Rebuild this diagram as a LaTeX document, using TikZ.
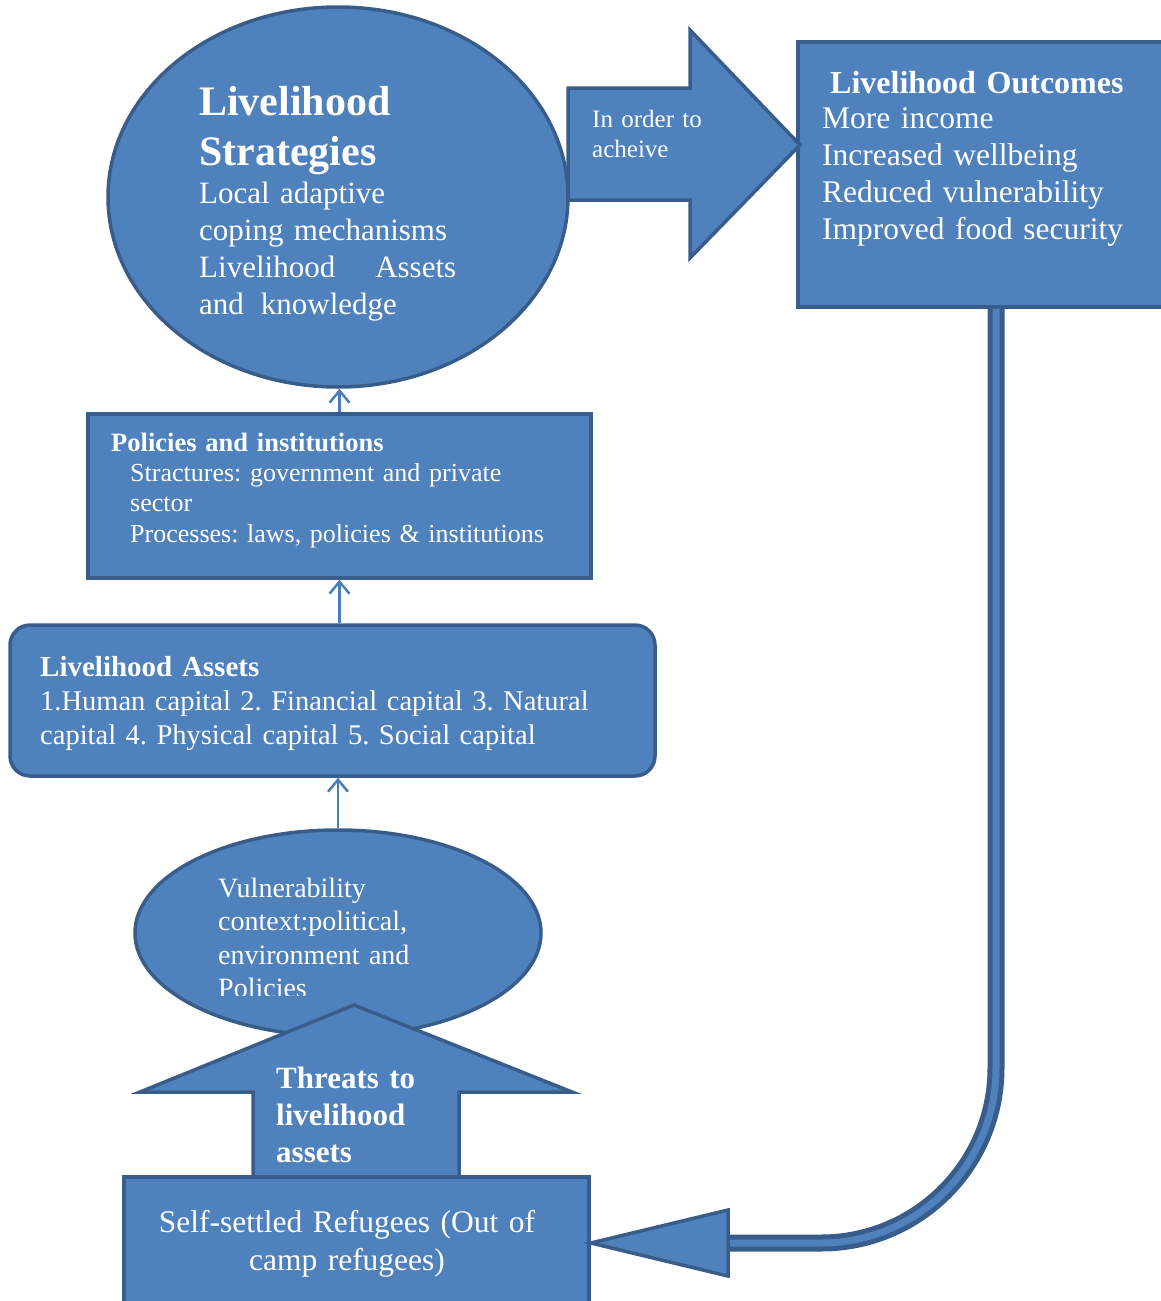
\documentclass[tikz,border=0pt]{standalone}
\usepackage{fontspec}
\setmainfont{Liberation Serif}
\usetikzlibrary{arrows.meta,calc,shapes.geometric}
\definecolor{slfill}{HTML}{4F81BD}
\definecolor{sledge}{HTML}{385D8A}
\definecolor{slline}{HTML}{4A7EBB}
\frenchspacing

\begin{document}
\begin{tikzpicture}[
    x=1pt, y=-1pt,
    block/.style={draw=sledge, fill=slfill, line width=3.5pt},
    txt/.style={text=white, inner sep=0pt, anchor=base west, align=left, text width=#1},
    txt/.default=400pt,
    link/.style={draw=slline, line width=2.5pt, -{Straight Barb[length=12pt,width=20pt]}}
]
\useasboundingbox (0,0) rectangle (1161,1301);
\clip (0,0) rectangle (1161,1301);

% main shapes
\node[block, ellipse, minimum width=460pt, minimum height=380pt] (strat) at (338,197) {};
\node[block, minimum width=396pt, minimum height=265pt] (outcomes) at (996,174.5) {};
\node[block, minimum width=503pt, minimum height=164pt] (policies) at (339.5,496) {};
\node[block, rounded corners=20pt, minimum width=645pt, minimum height=151pt] (assets) at (332.5,700.5) {};
\node[block, ellipse, minimum width=406pt, minimum height=206pt] (vuln) at (338,933) {};

% "in order to" block arrow
\draw[block] (568,88) -- (690,88) -- (690,30) -- (800,145) -- (690,258) -- (690,200) -- (568,200) -- cycle;

% texts
\node[txt, font=\bfseries\fontsize{42}{50}\selectfont] (strattitle) at (199,115) {Livelihood\\Strategies};
\node[txt, font=\fontsize{31}{37}\selectfont] (strattext) at (199,203)
    {Local adaptive\\coping mechanisms\\Livelihood\hspace*{40pt}Assets\\and\hspace*{17pt}knowledge};
\node[txt=150pt, font=\fontsize{25}{30}\selectfont] (achieve) at (592,127) {In order to\\acheive};
\node[txt, font=\bfseries\fontsize{32}{37}\selectfont] (outtitle) at (830,93) {Livelihood Outcomes};
\node[txt, font=\fontsize{31.5}{37}\selectfont] (outtext) at (822,128)
    {More income\\Increased wellbeing\\Reduced vulnerability\\Improved food security};
\node[txt, font=\bfseries\fontsize{26.5}{30.5}\selectfont] (poltitle) at (111,451) {Policies and institutions};
\node[txt=460pt, font=\fontsize{26}{30.5}\selectfont] (poltext) at (130,481)
    {Stractures: government and private\\sector\\Processes: laws, policies \& institutions};
\node[txt, font=\bfseries\fontsize{29}{34}\selectfont] (asstitle) at (40,676) {Livelihood Assets};
\node[txt=620pt, font=\fontsize{28.5}{34}\selectfont] (asstext) at (40,710)
    {1.Human capital 2. Financial capital 3. Natural\\capital 4. Physical capital 5. Social capital};
\begin{scope}
  \clip (0,0) rectangle (1161,995);
  \node[txt, font=\fontsize{28}{33.5}\selectfont] (vulntext) at (218,897)
      {Vulnerability\\context:political,\\environment and\\Policies};
\end{scope}

% threats arrow and refugees box
\draw[block] (253,1177) -- (253,1092) -- (140,1092) -- (354,1005) -- (572,1092) -- (459,1092) -- (459,1177) -- cycle;
\node[block, minimum width=465pt, minimum height=132pt] (refugees) at (356.5,1243) {};
\node[txt, font=\bfseries\fontsize{31}{37}\selectfont] (threats) at (276,1088) {Threats to\\livelihood\\assets};
\node[txt=440pt, anchor=base, align=center, font=\fontsize{31.5}{38}\selectfont] (reftext) at (347,1232)
    {Self-settled Refugees (Out of\\camp refugees)};

% feedback from outcomes to refugees
\draw[draw=sledge, double=slfill, double distance=7pt, line width=5pt]
    (outcomes.south) -- (996,1068) arc[start angle=0, end angle=90, radius=175] -- (728,1243);
\draw[block] (728,1210) -- (refugees.east) -- (728,1276) -- cycle;

% links
\draw[link] (policies.north) -- (policies.north |- strat.south);
\draw[link] (assets.north -| policies.south) -- (policies.south);
\draw[link] (vuln.north) -- (vuln.north |- assets.south);
\end{tikzpicture}
\end{document}
